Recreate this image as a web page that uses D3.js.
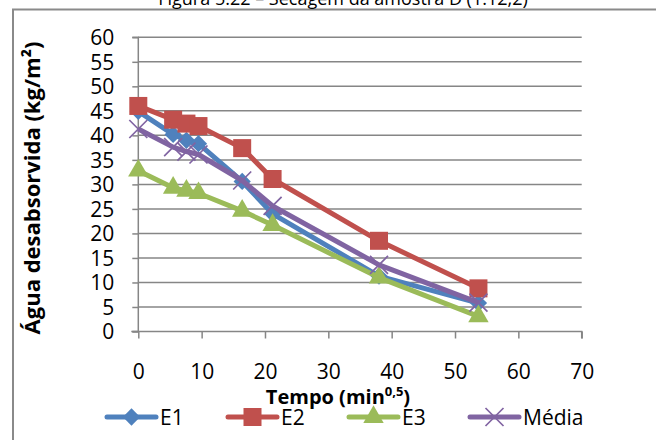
<!DOCTYPE html>
<html><head><meta charset="utf-8">
<script src="https://cdn.jsdelivr.net/npm/d3@7"></script>
<style>body{margin:0;background:#fff}svg{display:block}text{font-family:"Open Sans",sans-serif;fill:#000}</style>
</head><body>
<script>
const title = "Figura 5.22 – Secagem da amostra D (1:12,2)";
const tempo = [0, 5.5, 7.6, 9.5, 16.4, 21.2, 38, 53.7];
const E1 = [44.9, 40.2, 39.0, 38.3, 30.6, 24.0, 11.3, 5.8];
const E2 = [46.0, 43.2, 42.4, 41.9, 37.4, 31.1, 18.5, 8.8];
const E3 = [32.8, 29.3, 28.7, 28.2, 24.6, 21.7, 11.0, 3.1];
const Media = [41.3, 37.6, 36.7, 36.1, 30.8, 25.6, 13.6, 5.9];
const seriesNames = ["E1", "E2", "E3", "Média"];
const xTicks = [0, 10, 20, 30, 40, 50, 60, 70];
const yTicks = [0, 5, 10, 15, 20, 25, 30, 35, 40, 45, 50, 55, 60];

const W = 656, H = 440;
const svg = d3.select("body").append("svg").attr("width", W).attr("height", H);
const x = d3.scaleLinear().domain([0, 70]).range([138.3, 581.7]);
const y = d3.scaleLinear().domain([0, 60]).range([331.5, 37.3]);
const grid = "#868686";

// frame
svg.append("path").attr("d", `M13,${H+5}V9.5H${W+5}`).attr("fill","none").attr("stroke","#8a8a8a").attr("stroke-width",2);

// title (cut at top)
svg.append("text").attr("x", 343).attr("y", 5).attr("text-anchor","middle").attr("font-size",18).text(title);

// gridlines
svg.append("g").selectAll("line").data(yTicks.filter(d=>d>0)).join("line")
  .attr("x1", x(0)).attr("x2", x(70)).attr("y1", d=>y(d)).attr("y2", d=>y(d))
  .attr("stroke", grid).attr("stroke-width", 1.5);

// y axis
const yAxis = d3.axisLeft(y).tickValues(yTicks).tickSize(6).tickPadding(18).tickFormat(d3.format("d"));
const gy = svg.append("g").attr("transform", `translate(${x(0)},0)`).call(yAxis);
gy.select(".domain").attr("stroke", grid).attr("stroke-width", 1.5).attr("d", `M-6,${y(60)}H0V${y(0)}H-6`);
gy.selectAll(".tick line").attr("stroke", grid).attr("stroke-width", 1.5);
gy.selectAll(".tick text").attr("font-size", 21).attr("font-family", '"Open Sans",sans-serif').attr("dy","0.35em").attr("x",-24);

// x axis
const xAxis = d3.axisBottom(x).tickValues(xTicks).tickSize(7).tickPadding(28).tickFormat(d3.format("d"));
const gx = svg.append("g").attr("transform", `translate(0,${y(0)})`).call(xAxis);
gx.select(".domain").attr("stroke", grid).attr("stroke-width", 1.5).attr("d", `M${x(0)-7},0H${x(70)}V7`);
gx.selectAll(".tick line").attr("stroke", grid).attr("stroke-width", 1.5);
gx.selectAll(".tick text").attr("font-size", 21).attr("font-family", '"Open Sans",sans-serif').attr("dy","0").attr("y", 47);

// axis titles
svg.append("text").attr("transform","translate(40,188) rotate(-90)").attr("text-anchor","middle")
  .attr("font-size",22).attr("font-weight","bold").text("Água desabsorvida (kg/m²)");
const xt = svg.append("text").attr("x", 338).attr("y", 404).attr("text-anchor","middle").attr("font-size",20).attr("font-weight","bold");
xt.append("tspan").text("Tempo (min");
xt.append("tspan").attr("font-size",13).attr("dy",-8).text("0,5");
xt.append("tspan").attr("dy",8).text(")");

const colors = ["#4F81BD", "#C0504D", "#9BBB59", "#8064A2"];
const data = [E1, E2, E3, Media];
const line = d3.line().x((d,i)=>x(tempo[i])).y(d=>y(d));

function marker(g, k, cx, cy) {
  const c = colors[k];
  if (k === 0) g.append("path").attr("d", d3.symbol(d3.symbolDiamond2, 190)()).attr("transform",`translate(${cx},${cy})`).attr("fill", c);
  else if (k === 1) g.append("rect").attr("x",cx-9).attr("y",cy-9).attr("width",18).attr("height",18).attr("fill",c);
  else if (k === 2) g.append("path").attr("d", d3.symbol(d3.symbolTriangle, 180)()).attr("transform",`translate(${cx},${cy})`).attr("fill", c);
  else g.append("path").attr("d", `M${cx-9},${cy-9}L${cx+9},${cy+9}M${cx-9},${cy+9}L${cx+9},${cy-9}`).attr("stroke", c).attr("stroke-width",1.7);
}

data.forEach((vals, k) => {
  const g = svg.append("g");
  g.append("path").datum(vals).attr("d", line).attr("fill","none").attr("stroke", colors[k]).attr("stroke-width", 5).attr("stroke-linejoin","round");
  vals.forEach((v,i) => marker(g, k, x(tempo[i]), y(v)));
});

// legend
const legX = [107, 228, 349, 470];
seriesNames.forEach((n, k) => {
  const g = svg.append("g");
  const ly = 417;
  g.append("line").attr("x1", legX[k]).attr("x2", legX[k]+49).attr("y1", ly).attr("y2", ly).attr("stroke", colors[k]).attr("stroke-width", 5).attr("stroke-linecap","round");
  marker(g, k, legX[k]+24.5, ly);
  g.append("text").attr("x", legX[k]+53).attr("y", ly).attr("dy","0.36em").attr("font-size",21).text(n);
});
</script>
</body></html>
